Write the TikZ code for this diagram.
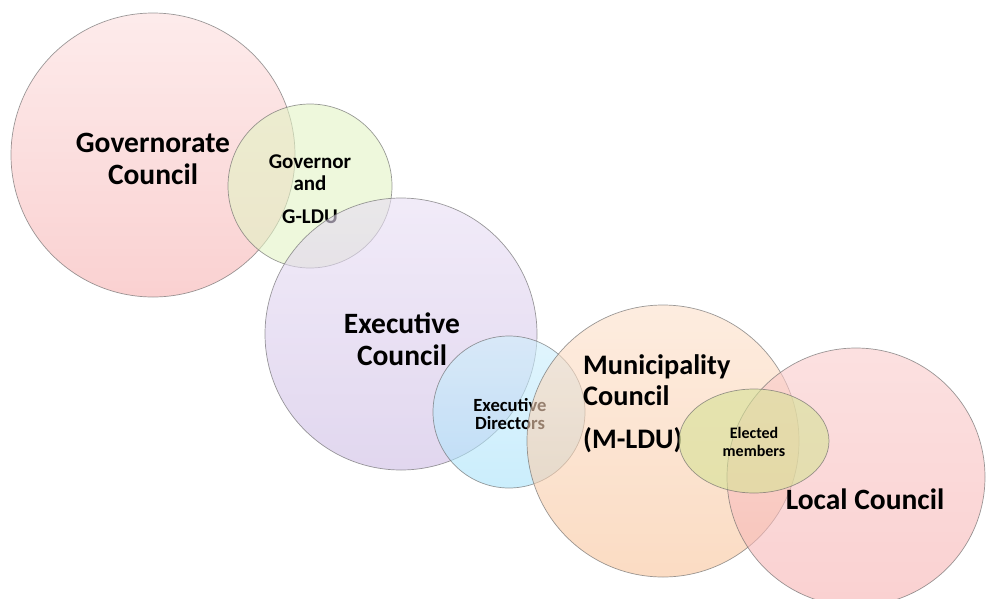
\documentclass[tikz,border=0pt]{standalone}
\usepackage{fontspec}
\setsansfont{Carlito}
\usetikzlibrary{shapes.geometric}
\definecolor{govtop}{RGB}{252,222,222}
\definecolor{govbot}{RGB}{246,178,178}
\definecolor{gldu}{RGB}{226,243,196}
\definecolor{exectop}{RGB}{232,222,244}
\definecolor{execbot}{RGB}{205,188,228}
\definecolor{dirtop}{RGB}{205,238,252}
\definecolor{dirbot}{RGB}{168,226,250}
\definecolor{muntop}{RGB}{252,224,202}
\definecolor{munbot}{RGB}{248,196,155}
\definecolor{loctop}{RGB}{250,204,204}
\definecolor{locbot}{RGB}{246,178,178}
\definecolor{elect}{RGB}{214,226,150}
\tikzstyle{council} = [
  circle,
  draw=black!60,
  line width=0.7pt,
  draw opacity=0.65,
  fill opacity=0.6,
  text opacity=1,
  inner sep=0pt,
]
\tikzstyle{bigtext} = [
  align=center,
  inner sep=0pt,
  font=\sffamily\bfseries\fontsize{29.5}{32}\selectfont,
]
\tikzstyle{smalltext} = [
  align=center,
  inner sep=0pt,
  font=\sffamily\bfseries\fontsize{21}{22}\selectfont,
]

\begin{document}
\begin{tikzpicture}[
    x=1pt,
    y=-1pt,
  ]
  \useasboundingbox (0,0) rectangle (988,598);
  \clip (0,0) rectangle (988,598);
  % governorate level
  \node[
    council,
    minimum size=284pt,
    top color=govtop,
    bottom color=govbot,
  ](govcouncil) at (153,155) {};
  \node[bigtext](govtext) at (153,159) {Governorate\\Council};
  \node[
    council,
    minimum size=164pt,
    fill=gldu,
  ](governor) at (310,186) {};
  \node[smalltext](govnrtext) at (310,189) {Governor\\and\\[11pt]G-LDU};
  % executive level
  \node[
    council,
    minimum size=272pt,
    top color=exectop,
    bottom color=execbot,
  ](execcouncil) at (401,334) {};
  \node[bigtext](exectext) at (402,339) {Executive\\Council};
  \node[
    council,
    minimum size=152pt,
    top color=dirtop,
    bottom color=dirbot,
  ](directors) at (509,412) {};
  \node[
    smalltext,
    font=\sffamily\bfseries\fontsize{18.6}{18.5}\selectfont,
  ](dirtext) at (510,414) {Executive\\Directors};
  % municipality level
  \node[
    council,
    minimum size=272pt,
    top color=muntop,
    bottom color=munbot,
  ](municipality) at (663,441) {};
  \node[
    bigtext,
    align=left,
    anchor=west,
    font=\sffamily\bfseries\fontsize{28.3}{31}\selectfont,
  ](muntext) at (583,404) {Municipality\\Council\\[12pt](M-LDU)};
  \node[
    council,
    minimum size=258pt,
    top color=loctop,
    bottom color=locbot,
  ](localcouncil) at (856,477) {};
  \node[
    council,
    ellipse,
    minimum width=150pt,
    minimum height=104pt,
    fill=elect,
  ](elected) at (754,441) {};
  \node[
    smalltext,
    font=\sffamily\bfseries\fontsize{16}{18}\selectfont,
  ](electtext) at (754,442) {Elected\\members};
  \node[bigtext](loctext) at (865,499) {Local Council};
\end{tikzpicture}
\end{document}
